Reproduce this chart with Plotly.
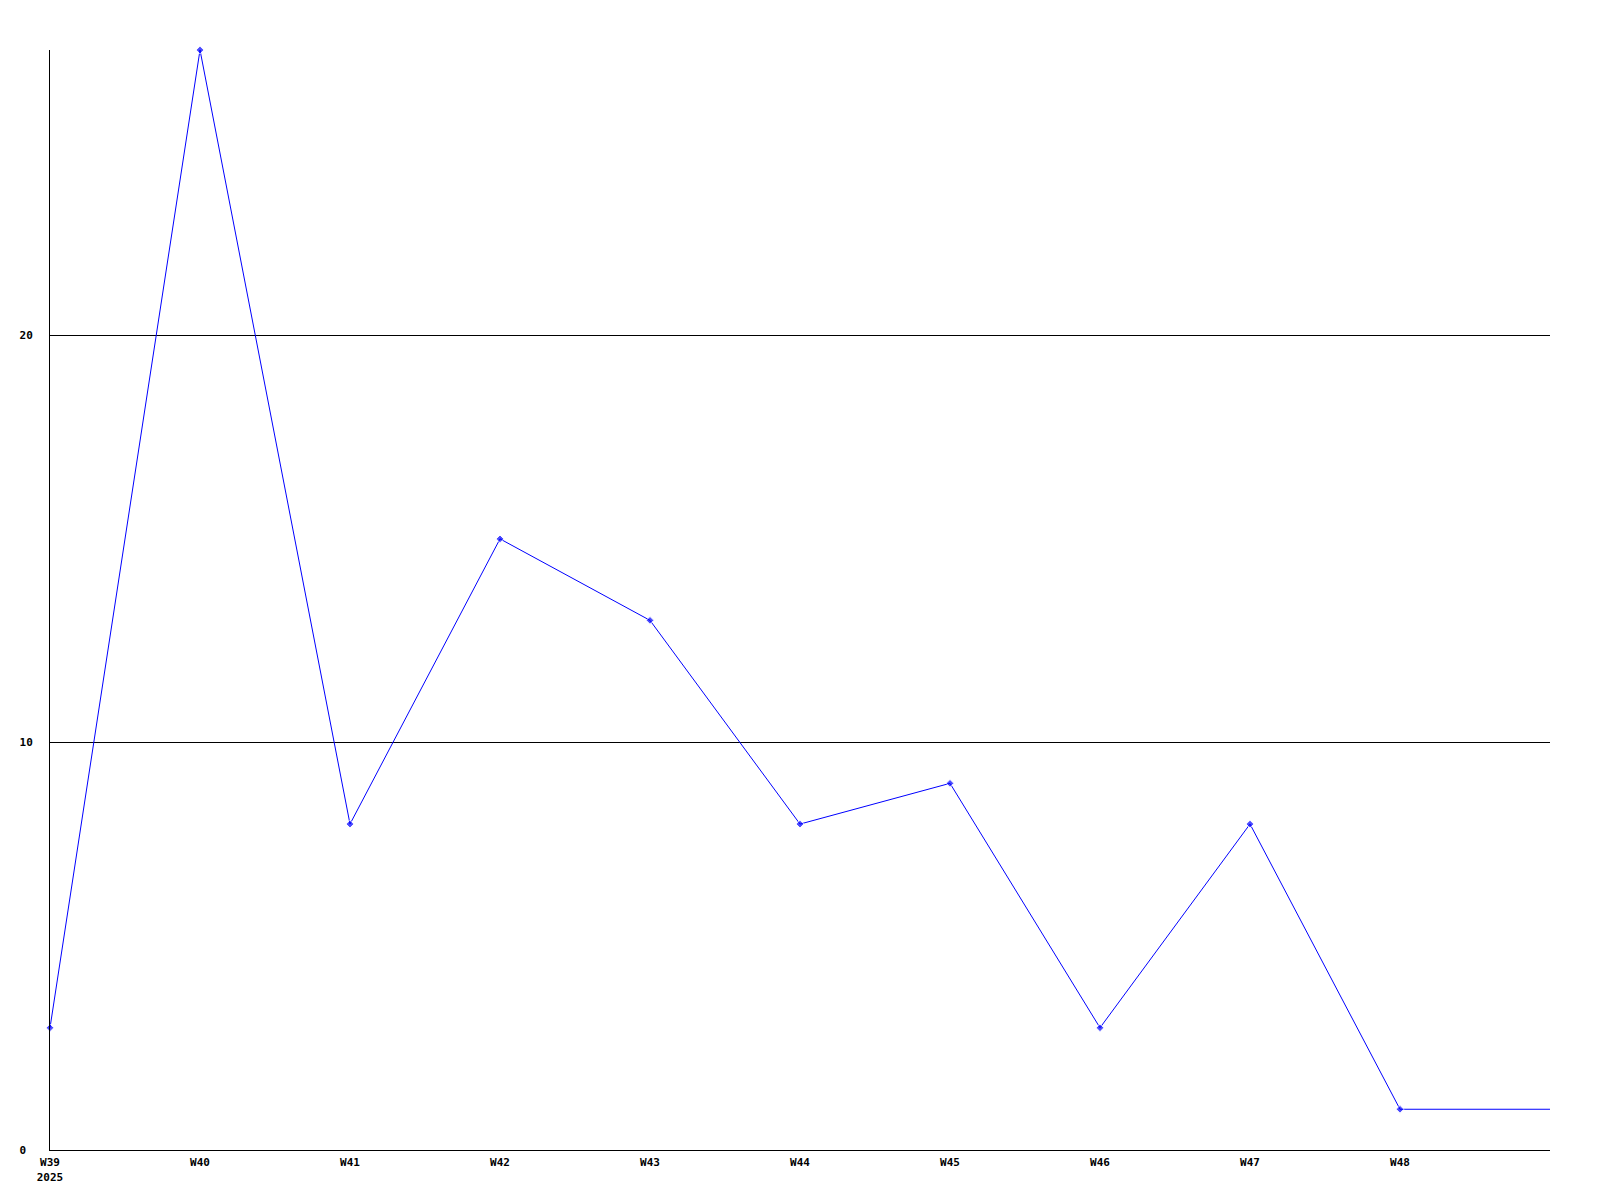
import plotly.graph_objects as go

weeks = [39, 40, 41, 42, 43, 44, 45, 46, 47, 48, 49]
values = [3, 27, 8, 15, 13, 8, 9, 3, 8, 1, 1]
marker_sizes = [6, 6, 6, 6, 6, 6, 6, 6, 6, 6, 0]
x_tickvals = [39, 40, 41, 42, 43, 44, 45, 46, 47, 48]
x_ticktext = ["W39<br>2025", "W40", "W41", "W42", "W43", "W44", "W45", "W46", "W47", "W48"]
y_tickvals = [0, 10, 20]
y_ticktext = ["0\u00a0", "10", "20"]

font = dict(family="DejaVu Sans Mono", size=11, color="black")

fig = go.Figure()
fig.add_trace(go.Scatter(
    x=weeks, y=values, mode="lines+markers",
    line=dict(color="#0000ff", width=1),
    marker=dict(symbol="diamond", size=marker_sizes, color="#0000ff"),
    cliponaxis=False,
    showlegend=False,
))

fig.update_layout(
    width=1600, height=1200,
    margin=dict(l=42, r=58, t=42, b=58),
    paper_bgcolor="white", plot_bgcolor="white",
    font=font,
)
fig.update_xaxes(
    range=[39, 49], tickvals=x_tickvals, ticktext=x_ticktext,
    showgrid=False, zeroline=False, showline=True, linecolor="black", linewidth=1,
    ticks="", tickfont=dict(family="DejaVu Sans Mono", size=11, color="black", weight="bold"),
    ticklabelstandoff=2,
)
fig.update_yaxes(
    range=[0, 27], tickvals=y_tickvals, ticktext=y_ticktext,
    showgrid=True, gridcolor="black", gridwidth=1,
    zeroline=False, showline=True, linecolor="black", linewidth=1,
    ticks="", tickfont=dict(family="DejaVu Sans Mono", size=11, color="black", weight="bold"),
    ticklabelstandoff=14,
)

fig.write_html("out.html")
